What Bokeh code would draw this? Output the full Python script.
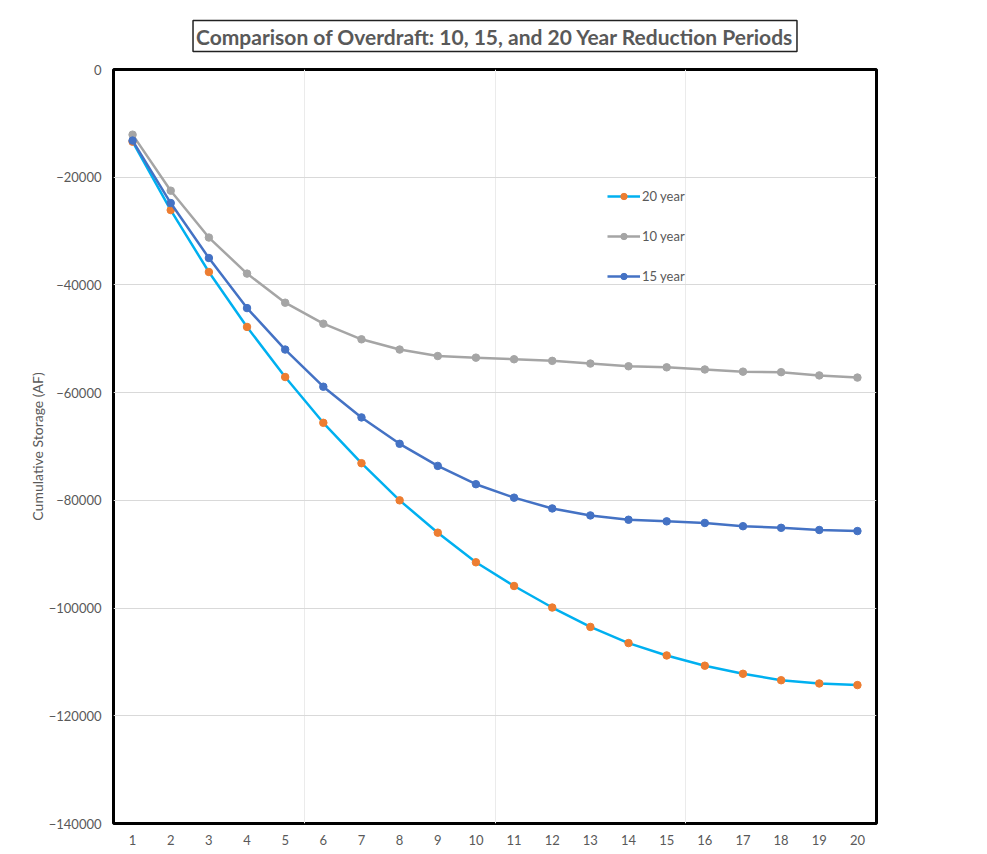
from bokeh.plotting import figure
from bokeh.models import FixedTicker, Title
from bokeh.embed import file_html
from bokeh.resources import INLINE

years = list(range(1, 21))
y20 = [-13400, -26100, -37600, -47800, -57100, -65600, -73100, -80000, -86000, -91500,
       -95900, -99900, -103500, -106500, -108800, -110700, -112200, -113400, -114000, -114300]
y10 = [-12100, -22500, -31200, -37900, -43300, -47200, -50100, -52000, -53200, -53500,
       -53800, -54100, -54600, -55100, -55300, -55700, -56100, -56200, -56800, -57200]
y15 = [-13200, -24800, -35000, -44300, -52000, -58900, -64600, -69500, -73600, -77000,
       -79500, -81500, -82800, -83600, -83900, -84200, -84800, -85100, -85500, -85700]
y_ticks = [0, -20000, -40000, -60000, -80000, -100000, -120000, -140000]
title_text = "Comparison of Overdraft: 10, 15, and 20 Year Reduction Periods"
y_label = "Cumulative Storage (AF)"

FONT = "Lato"
GRAY_TXT = "#595959"

title = Title(text=title_text, align="center", text_font=FONT, text_font_style="bold",
              text_font_size="21px", text_color=GRAY_TXT,
              border_line_color="#222222", border_line_width=1.5,
              background_fill_color="white", padding=3, offset=10, standoff=36)

p = figure(width=987, height=854, output_backend="svg", toolbar_location=None,
           x_range=(0.5, 20.5), y_range=(-140000, 0), title=title,
           min_border_left=113, min_border_right=111, min_border_top=68, min_border_bottom=31)
p.outline_line_color = "black"
p.outline_line_width = 3

# axes
p.xaxis.ticker = FixedTicker(ticks=years)
p.yaxis.ticker = FixedTicker(ticks=y_ticks)
for ax in (p.xaxis[0], p.yaxis[0]):
    ax.axis_line_color = None
    ax.major_tick_line_color = None
    ax.minor_tick_line_color = None
    ax.major_tick_out = 0
    ax.major_label_text_font = FONT
    ax.major_label_text_font_size = "13px"
    ax.major_label_text_color = GRAY_TXT
p.yaxis.major_label_standoff = 12
p.xaxis.major_label_standoff = 11
p.yaxis.formatter.use_scientific = False
p.yaxis.axis_label = y_label
p.yaxis.axis_label_text_font = FONT
p.yaxis.axis_label_text_font_style = "normal"
p.yaxis.axis_label_text_font_size = "14px"
p.yaxis.axis_label_text_color = GRAY_TXT
p.yaxis.axis_label_standoff = 0

p.xgrid.ticker = FixedTicker(ticks=[5.5, 10.5, 15.5])
p.xgrid.grid_line_color = "#EBEBEB"
p.ygrid.ticker = FixedTicker(ticks=y_ticks[1:-1])
p.ygrid.grid_line_color = "#D9D9D9"

# series
p.line(years, y20, line_color="#00B0F0", line_width=2.5, legend_label="20 year")
p.scatter(years, y20, size=7.5, fill_color="#ED7D31", line_color="#ED7D31", legend_label="20 year")
p.line(years, y10, line_color="#A5A5A5", line_width=2.5, legend_label="10 year")
p.scatter(years, y10, size=7.5, fill_color="#A5A5A5", line_color="#A5A5A5", legend_label="10 year")
p.line(years, y15, line_color="#4472C4", line_width=2.5, legend_label="15 year")
p.scatter(years, y15, size=7.5, fill_color="#4472C4", line_color="#4472C4", legend_label="15 year")

lg = p.legend[0]
lg.location = (494, 539)
lg.border_line_color = None
lg.background_fill_alpha = 0
lg.padding = 0
lg.margin = 0
lg.glyph_width = 33
lg.glyph_height = 16
lg.label_height = 16
lg.spacing = 24
lg.label_standoff = 2
lg.label_text_font = FONT
lg.label_text_font_size = "13px"
lg.label_text_color = GRAY_TXT

open("out.html", "w").write(file_html(p, INLINE))
